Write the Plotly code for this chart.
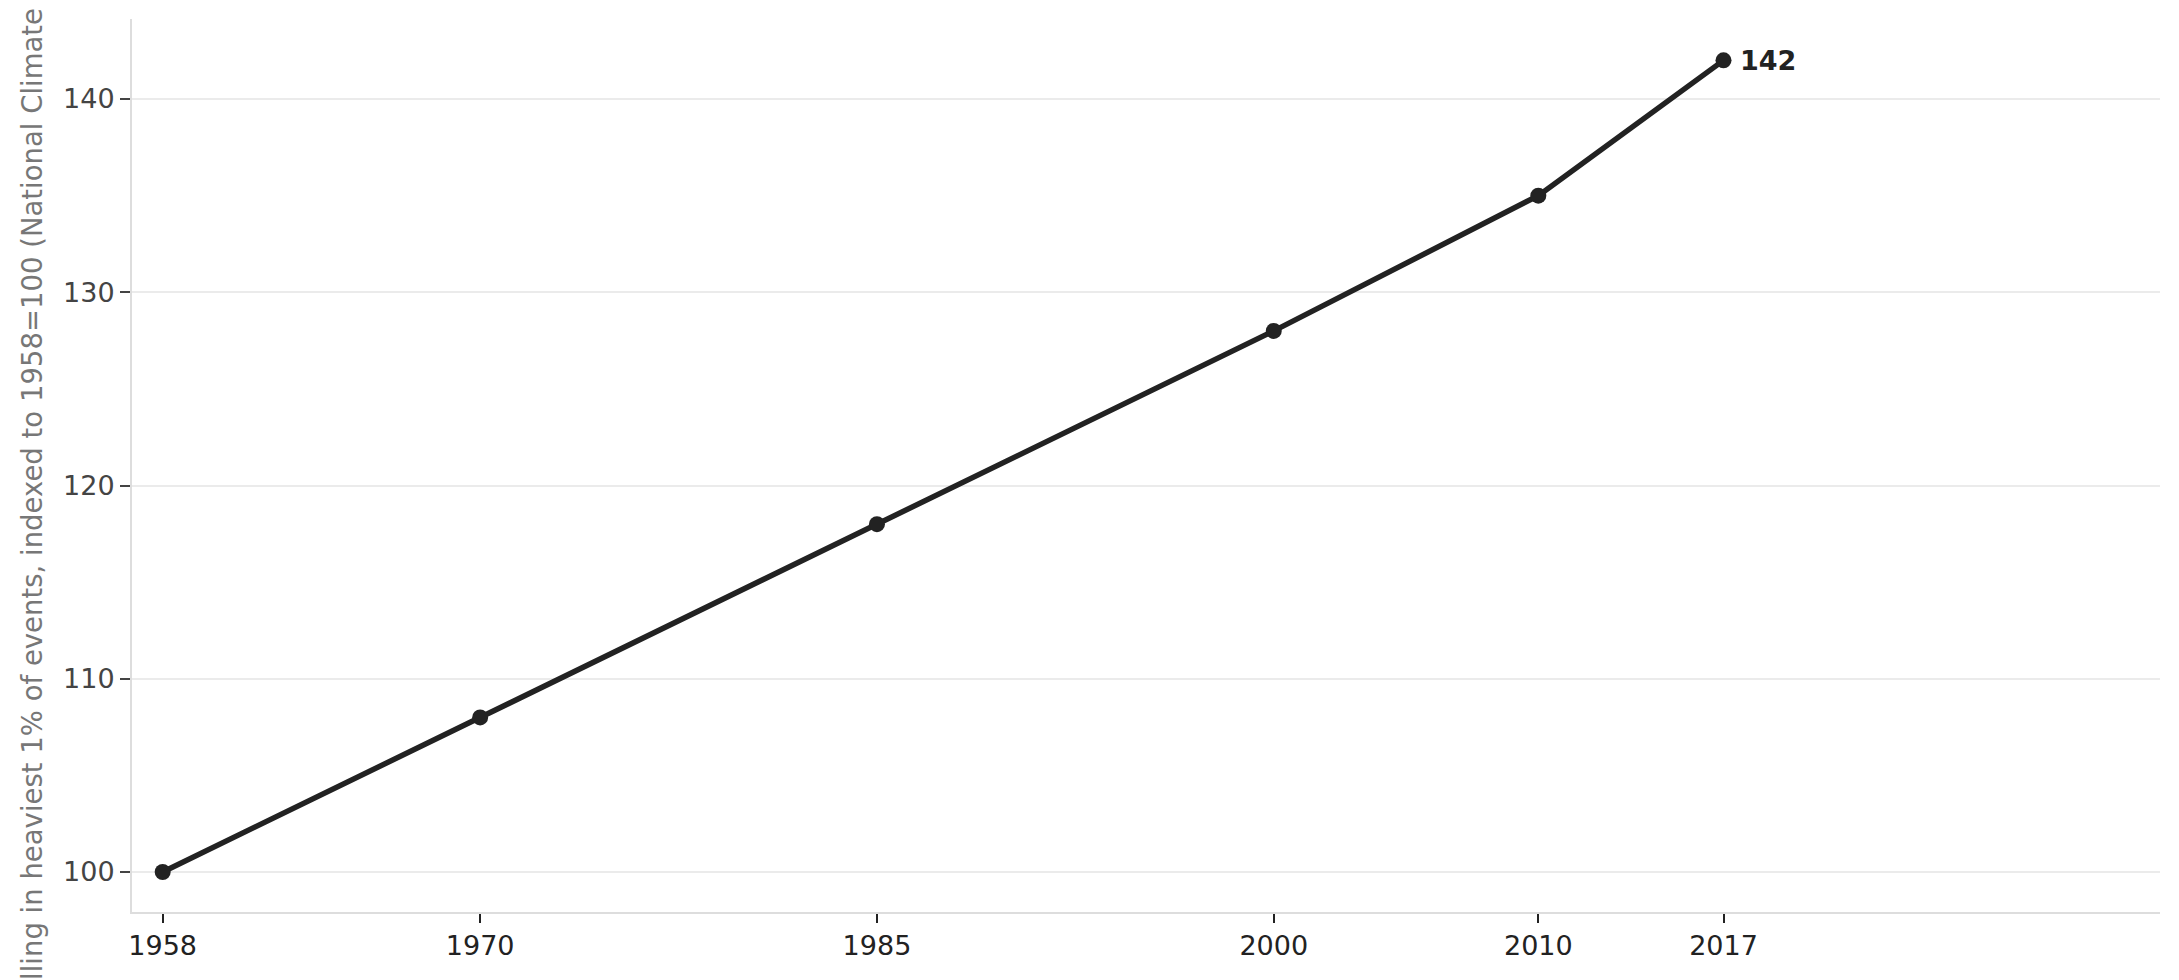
import plotly.graph_objects as go

# heavy precipitation index, 1958 = 100
years = [1958, 1970, 1985, 2000, 2010, 2017]
index_values = [100, 108, 118, 128, 135, 142]
tick_years = [1958, 1970, 1985, 2000, 2010, 2017]
y_ticks = [100, 110, 120, 130, 140]

y_title = ("Share of precipitation falling in heaviest 1% of events, "
           "indexed to 1958=100 (National Climate Assessment)")

fig = go.Figure()

fig.add_trace(go.Scatter(
    x=years, y=index_values,
    mode="lines+markers",
    line=dict(color="#222222", width=5.5),
    marker=dict(color="#222222", size=16),
    hoverinfo="x+y",
    showlegend=False,
))

# label on the last point
fig.add_annotation(
    x=years[-1], y=index_values[-1],
    text="<b>" + str(index_values[-1]) + "</b>",
    showarrow=False, xanchor="left", yanchor="middle",
    xshift=14,
    font=dict(family="DejaVu Sans", size=27, color="#222222"),
)

# long axis title, runs off the figure like the original
fig.add_annotation(
    xref="paper", yref="paper",
    x=-0.0490, y=0.385,
    text=y_title, textangle=-90,
    showarrow=False, xanchor="center", yanchor="middle",
    font=dict(family="DejaVu Sans", size=27.5, color="#777777"),
)

# page body has an 8px margin, so the margins are trimmed by that much
fig.update_layout(
    width=2179, height=980,
    margin=dict(l=124, r=27, t=11, b=76),
    paper_bgcolor="white",
    plot_bgcolor="white",
    font=dict(family="DejaVu Sans"),
)

fig.update_xaxes(
    range=[1956.84, 2033.5],
    tickmode="array", tickvals=tick_years,
    ticktext=[str(y) for y in tick_years],
    ticks="outside", ticklen=9, tickwidth=2, tickcolor="#222222",
    tickfont=dict(size=27, color="#222222"),
    showgrid=False, zeroline=False,
    showline=True, linecolor="#dddddd", linewidth=2,
)

fig.update_yaxes(
    range=[97.93, 144.14],
    tickmode="array", tickvals=y_ticks,
    ticks="outside", ticklen=10, tickwidth=2, tickcolor="#444444",
    tickfont=dict(size=27, color="#444444"),
    showgrid=True, gridcolor="#ebebeb", gridwidth=2,
    zeroline=False,
    showline=True, linecolor="#dddddd", linewidth=2,
)

fig.write_html("out.html")
